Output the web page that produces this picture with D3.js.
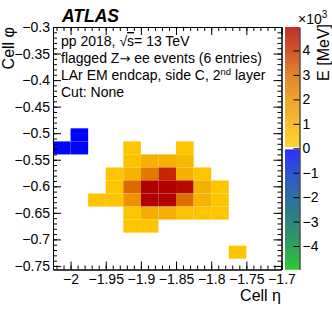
<!DOCTYPE html>
<html>
<head>
<meta charset="utf-8">
<script src="https://cdn.jsdelivr.net/npm/d3@7"></script>
<style>
body { margin: 0; background: #fff; }
text { font-family: "Liberation Sans", Arial, sans-serif; }
</style>
</head>
<body>
<svg width="332" height="319"></svg>
<script>
// cell centres (eta, phi) and energy in MeV
var cellEta = [-1.9875, -2.0125, -1.9875,
  -1.9125, -1.8375,
  -1.9125, -1.8875, -1.8625, -1.8375,
  -1.9375, -1.9125, -1.8875, -1.8625, -1.8375, -1.8125,
  -1.9375, -1.9125, -1.8875, -1.8625, -1.8375, -1.8125, -1.7875,
  -1.9625, -1.9375, -1.9125, -1.8875, -1.8625, -1.8375, -1.8125, -1.7875,
  -1.9125, -1.8875, -1.8625, -1.8375, -1.8125, -1.7875,
  -1.9125, -1.8875,
  -1.7625]
var cellPhi = [-0.5031, -0.5277, -0.5277,
  -0.5277, -0.5277,
  -0.5522, -0.5522, -0.5522, -0.5522,
  -0.5768, -0.5768, -0.5768, -0.5768, -0.5768, -0.5768,
  -0.6013, -0.6013, -0.6013, -0.6013, -0.6013, -0.6013, -0.6013,
  -0.6259, -0.6259, -0.6259, -0.6259, -0.6259, -0.6259, -0.6259, -0.6259,
  -0.6504, -0.6504, -0.6504, -0.6504, -0.6504, -0.6504,
  -0.6750, -0.6750,
  -0.7241]
var cellE = [-150, -150, -150,
  300, 300,
  350, 1000, 1000, 700,
  300, 900, 2600, 4200, 1000, 300,
  300, 3000, 5000, 5000, 4800, 1000, 300,
  300, 300, 1900, 5000, 5000, 2900, 900, 300,
  300, 1100, 1000, 400, 300, 300,
  300, 300,
  300]
var dEta = 0.025
var dPhi = 0.02454

var xTicks = [-2, -1.95, -1.9, -1.85, -1.8, -1.75, -1.7]
var yTicks = [-0.3, -0.35, -0.4, -0.45, -0.5, -0.55, -0.6, -0.65, -0.7, -0.75]
var zTicks = [-4, -3, -2, -1, 0, 1, 2, 3, 4]

var pl = 53, pr = 281.5, pt = 27, pb = 269.5
var zMax = 4.96

var svg = d3.select("svg")
var xs = d3.scaleLinear().domain([-2.025, -1.7]).range([pl, pr])
var ys = d3.scaleLinear().domain([-0.3, -0.7567]).range([pt, pb])
var zs = d3.scaleLinear().domain([-zMax, zMax]).range([pb, pt])

var posCol = d3.scaleLinear().domain([60, 1000, 2000, 3000, 4000, 4960])
  .range(["#ffcc00", "#f5b000", "#ea9000", "#dc6a00", "#c83000", "#b00000"]).clamp(true)
var negCol = d3.scaleLinear().domain([-60, -1000, -2000, -3000, -4000, -4960])
  .range(["#0000ff", "#0030c8", "#00508c", "#006c60", "#008c38", "#00c000"]).clamp(true)
function colour(v) {
  if (Math.abs(v) < 60) return "#fff"
  return v > 0 ? posCol(v) : negCol(v)
}

// cells
svg.append("g").selectAll("rect").data(cellE).enter().append("rect")
  .attr("x", function(d, i) { return xs(cellEta[i] - dEta / 2) })
  .attr("y", function(d, i) { return ys(cellPhi[i] + dPhi / 2) })
  .attr("width", function(d, i) { return xs(cellEta[i] + dEta / 2) - xs(cellEta[i] - dEta / 2) })
  .attr("height", function(d, i) { return ys(cellPhi[i] - dPhi / 2) - ys(cellPhi[i] + dPhi / 2) })
  .attr("fill", function(d) { return colour(d) })

// colour bar
var cbx = 285, cbw = 14.5
svg.append("g").selectAll("rect").data(d3.range(pt, pb, 0.5)).enter().append("rect")
  .attr("x", cbx).attr("y", function(d) { return d })
  .attr("width", cbw).attr("height", 0.6)
  .attr("fill", function(d) { return colour(zs.invert(d + 0.25) * 1000) })

var fmt = d3.format("~g")
var xMinor = d3.range(-2.02, -1.6999, 0.01)
var yMinor = d3.range(-0.3, -0.7567, -0.01)

function addAxis(gen, tr, size) {
  var g = svg.append("g").attr("transform", tr).call(gen)
  g.attr("font-size", size || 14).attr("font-family", null)
  g.selectAll("line").attr("stroke", "#000")
  g.selectAll("path").attr("stroke", "#000")
  g.selectAll("text").attr("fill", "#000")
  return g
}

addAxis(d3.axisBottom(xs).tickValues(xTicks).tickSize(-8).tickSizeOuter(0).tickPadding(5).tickFormat(fmt), "translate(0," + pb + ")")
addAxis(d3.axisBottom(xs).tickValues(xMinor).tickSize(-4).tickSizeOuter(0).tickFormat(""), "translate(0," + pb + ")")
addAxis(d3.axisTop(xs).tickValues(xTicks).tickSize(-8).tickSizeOuter(0).tickFormat(""), "translate(0," + pt + ")")
addAxis(d3.axisTop(xs).tickValues(xMinor).tickSize(-4).tickSizeOuter(0).tickFormat(""), "translate(0," + pt + ")")
addAxis(d3.axisLeft(ys).tickValues(yTicks).tickSize(-8).tickSizeOuter(0).tickPadding(3).tickFormat(fmt), "translate(" + pl + ",0)")
addAxis(d3.axisLeft(ys).tickValues(yMinor).tickSize(-4).tickSizeOuter(0).tickFormat(""), "translate(" + pl + ",0)")
addAxis(d3.axisRight(ys).tickValues(yTicks).tickSize(-8).tickSizeOuter(0).tickFormat(""), "translate(" + pr + ",0)")
addAxis(d3.axisRight(ys).tickValues(yMinor).tickSize(-4).tickSizeOuter(0).tickFormat(""), "translate(" + pr + ",0)")
addAxis(d3.axisRight(zs).tickValues(zTicks).tickSize(-6).tickSizeOuter(0).tickPadding(3).tickFormat(fmt), "translate(" + (cbx + cbw) + ",0)", 14)

// titles
svg.append("text").attr("x", 62).attr("y", 22)
  .attr("font-size", 17.5).attr("font-weight", "bold").attr("font-style", "italic").text("ATLAS")

var tx = 61, fs = 14
var l1 = svg.append("text").attr("x", tx).attr("y", 46).attr("font-size", fs)
l1.append("tspan").text("pp 2018, √")
l1.append("tspan").attr("text-decoration", "overline").text("s")
l1.append("tspan").text("= 13 TeV")
var l2 = svg.append("text").attr("x", tx).attr("y", 63).attr("font-size", fs)
l2.append("tspan").text("flagged Z")
l2.append("tspan").attr("font-family", "DejaVu Sans").attr("font-size", 13).text("→")
l2.append("tspan").text(" ee events (6 entries)")
var l3 = svg.append("text").attr("x", tx).attr("y", 80).attr("font-size", fs)
l3.append("tspan").text("LAr EM endcap, side C, 2")
l3.append("tspan").attr("font-size", 9.5).attr("dy", -5).text("nd")
l3.append("tspan").attr("dy", 5).text(" layer")
svg.append("text").attr("x", tx).attr("y", 97).attr("font-size", fs).text("Cut: None")

svg.append("text").attr("transform", "translate(14," + pt + ") rotate(-90)")
  .attr("text-anchor", "end").attr("font-size", 16).text("Cell φ")
svg.append("text").attr("x", 281).attr("y", 301)
  .attr("text-anchor", "end").attr("font-size", 16).text("Cell η")
svg.append("text").attr("transform", "translate(329,24) rotate(-90)")
  .attr("text-anchor", "end").attr("font-size", 16).text("E [MeV]")
var ex = svg.append("text").attr("x", 298).attr("y", 24).attr("font-size", 14)
ex.append("tspan").text("×10")
ex.append("tspan").attr("font-size", 10).attr("dy", -6).text("3")
</script>
</body>
</html>
